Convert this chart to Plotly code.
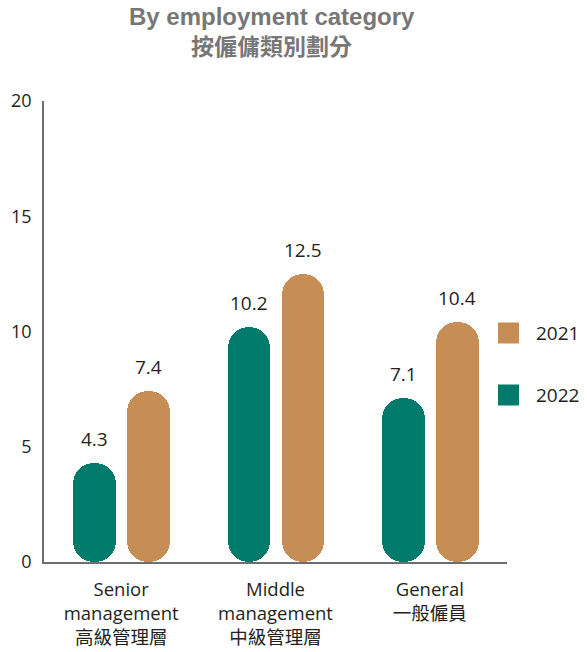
import plotly.graph_objects as go

# ---- data ----
categories_en = ["Senior<br>management", "Middle<br>management", "General"]
categories_zh = ["高級管理層", "中級管理層", "一般僱員"]
values_2022 = [4.3, 10.2, 7.1]
values_2021 = [7.4, 12.5, 10.4]
series_names = ["2022", "2021"]
y_ticks = [0, 5, 10, 15, 20]

TEAL = "#007A6B"
TAN = "#C68E55"
TEXT = "#231F20"
FONT = "Open Sans, Noto Sans CJK TC, sans-serif"

xs = list(range(len(categories_en)))
bar_w = 0.277
offsets = {"2022": -0.31, "2021": 0.039}
series = {"2022": (values_2022, TEAL), "2021": (values_2021, TAN)}

fig = go.Figure()
for name in series_names:
    vals, col = series[name]
    off = offsets[name]
    fig.add_trace(go.Bar(
        x=xs, y=vals, base=[0] * len(vals),
        width=bar_w, offset=off, name=name, showlegend=False,
        marker=dict(color=col, cornerradius="50%", line=dict(width=0)),
        hovertemplate=name + ": %{y}<extra></extra>",
    ))
    for x, v in zip(xs, vals):
        fig.add_annotation(
            x=x + off + bar_w / 2, y=v, xref="x", yref="y",
            text=f"{v}", showarrow=False, yanchor="bottom", yshift=9,
            font=dict(family=FONT, size=19, color=TEXT),
        )

ticktext = [f"{en}<br>{zh}" for en, zh in zip(categories_en, categories_zh)]

fig.update_layout(
    width=587, height=652,
    margin=dict(l=44, r=80, t=101, b=90, autoexpand=False),
    paper_bgcolor="white", plot_bgcolor="white",
    barmode="overlay", bargap=0,
    showlegend=False,
    font=dict(family=FONT, color=TEXT),
    xaxis=dict(
        range=[-0.5, 2.5], tickvals=xs, ticktext=ticktext,
        showgrid=False, zeroline=False, showline=True,
        linecolor="#6D6E71", linewidth=1.5, ticks="",
        tickfont=dict(family=FONT, size=18.5, color=TEXT),
        ticklabelstandoff=10, fixedrange=True,
    ),
    yaxis=dict(
        range=[0, 20], tickvals=y_ticks,
        showgrid=False, zeroline=False, showline=True,
        linecolor="#6D6E71", linewidth=1.5, ticks="",
        tickfont=dict(family=FONT, size=18, color=TEXT),
        ticklabelstandoff=7, fixedrange=True,
    ),
)

# title
fig.add_annotation(
    x=0.492, y=(562 - 17) / 461, xref="paper", yref="paper",
    text="<b>By employment category</b>", showarrow=False,
    xanchor="center", yanchor="middle",
    font=dict(family="Liberation Sans, Arial, sans-serif", size=24, color="#777777"),
)
fig.add_annotation(
    x=0.492, y=(562 - 45) / 461, xref="paper", yref="paper",
    text="<b>按僱傭類別劃分</b>", showarrow=False,
    xanchor="center", yanchor="middle",
    font=dict(family="Noto Sans CJK TC, sans-serif", size=23, color="#777777"),
)

# legend (manual, large squares)
legend_items = [("2021", TAN, (562 - 333) / 461), ("2022", TEAL, (562 - 395) / 461)]
for label, col, ypos in legend_items:
    fig.add_shape(
        type="rect", xref="paper", yref="paper",
        xsizemode="pixel", ysizemode="pixel",
        xanchor=1.0, yanchor=ypos,
        x0=-9, x1=12, y0=-10.5, y1=10.5,
        fillcolor=col, line=dict(width=0),
    )
    fig.add_annotation(
        x=1.0, y=ypos, xref="paper", yref="paper", xshift=27,
        text=label, showarrow=False, xanchor="left", yanchor="middle",
        font=dict(family=FONT, size=19, color=TEXT),
    )

fig.write_html(
    "out.html",
    config={"displayModeBar": False},
    post_script="document.body.style.margin='0';",
)
